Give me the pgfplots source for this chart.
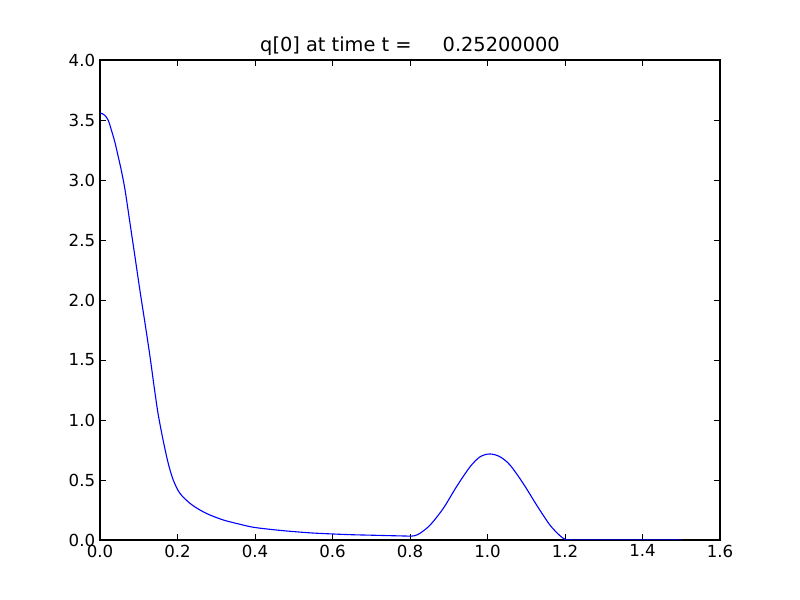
\documentclass[border=0pt]{standalone}
\usepackage{pgfplots}
\pgfplotsset{compat=1.18}
\usepackage{fontspec}
\setmainfont{DejaVu Sans}
\begin{document}
\begin{tikzpicture}
\begin{axis}[
  scale only axis,
  width=6.2in, height=4.8in,
  at={(0,0)}, anchor=south west,
  xmin=0, xmax=1.6, ymin=0, ymax=4.0,
  xtick={0,0.2,...,1.6}, ytick={0,0.5,...,4.0},
  xticklabel style={/pgf/number format/.cd,fixed,fixed zerofill,precision=1},
  yticklabel style={/pgf/number format/.cd,fixed,fixed zerofill,precision=1},
  /pgf/number format/assume math mode=true,
  tick align=inside,
  major tick length=4pt,
  tick style={black, line width=0.6pt},
  axis line style={line width=0.8pt},
  xtick pos=both, ytick pos=both,
  tick label style={font=\fontsize{12pt}{14pt}\selectfont},
  title style={font=\fontsize{14pt}{16pt}\selectfont, anchor=base, at={(0.5,1)}, yshift=0pt},
  title={q[0] at time t =\hspace{18pt} 0.25200000},
]
\addplot[blue, line width=0.8pt, smooth, tension=0.5] coordinates {
(0.0,3.558) (0.006,3.552) (0.012,3.54) (0.021,3.5) (0.029,3.42) (0.038,3.32)
(0.046,3.21) (0.055,3.08) (0.0645,2.92) (0.0774,2.64) (0.0903,2.36)
(0.103,2.08) (0.116,1.81) (0.129,1.53) (0.140,1.27) (0.150,1.05) (0.163,0.83)
(0.176,0.64) (0.189,0.50) (0.206,0.39) (0.232,0.306) (0.258,0.25) (0.284,0.208)
(0.32,0.165) (0.36,0.132) (0.396,0.106) (0.45,0.085) (0.5,0.07) (0.55,0.058) (0.602,0.05)
(0.65,0.044) (0.7,0.04) (0.75,0.036) (0.79,0.033) (0.8,0.032) (0.812,0.036)
(0.826,0.056) (0.852,0.125) (0.886,0.264) (0.92,0.444) (0.955,0.61)
(0.981,0.694) (1.006,0.717) (1.032,0.694) (1.058,0.625) (1.092,0.472)
(1.127,0.29) (1.161,0.125) (1.187,0.036) (1.2,0.006) (1.212,0.0)
(1.3,0.0) (1.4,0.0) (1.5,0.0)
};
\end{axis}
\useasboundingbox (-1in,-0.6in) rectangle (7in,5.4in);
\end{tikzpicture}
\end{document}
